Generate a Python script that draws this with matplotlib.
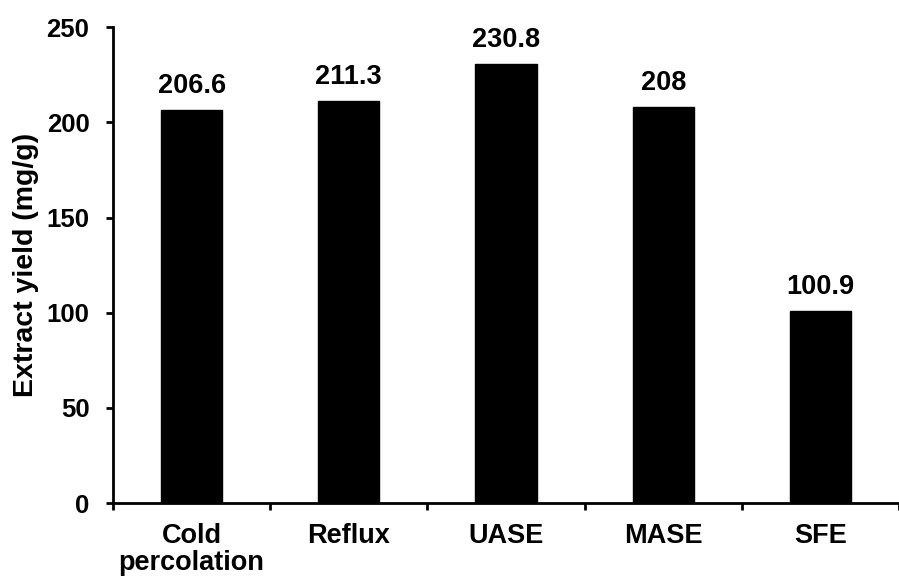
import matplotlib.pyplot as plt
import numpy as np

# extraction methods and their yields
methods = ["Cold\npercolation", "Reflux", "UASE", "MASE", "SFE"]
yields = [206.6, 211.3, 230.8, 208, 100.9]
value_labels = ["206.6", "211.3", "230.8", "208", "100.9"]

plt.rcParams['font.family'] = ['Liberation Sans', 'DejaVu Sans']
plt.rcParams['font.weight'] = 'bold'

fig = plt.figure(figsize=(8.99, 5.77), dpi=100)
ax = fig.add_axes([0.1257, 0.128, 0.8743, 0.825])

x = np.arange(len(methods))
bars = ax.bar(x, yields, width=0.39, color='black', edgecolor='black')

for xi, yv, lab in zip(x, yields, value_labels):
    ax.annotate(lab, (xi, yv), xytext=(0, 8), textcoords='offset points',
                ha='center', va='bottom', fontsize=19.5, fontweight='bold')

ax.set_ylim(0, 250)
ax.set_xlim(-0.5, 4.475)
ax.set_yticks([0, 50, 100, 150, 200, 250])
ax.tick_params(axis='y', labelsize=18.5, width=2, length=5, direction='out', pad=12)

# ticks at group boundaries, labels at centres
ax.set_xticks(np.arange(-0.5, 5, 1))
ax.set_xticklabels([])
ax.tick_params(axis='x', which='major', width=2, length=5, direction='out')
ax.set_xticks(x, minor=True)
ax.set_xticklabels(methods, minor=True, fontsize=19.5, fontweight='bold',
                   linespacing=1.05)
ax.tick_params(axis='x', which='minor', length=0, pad=14)

for s in ['top', 'right']:
    ax.spines[s].set_visible(False)
for s in ['left', 'bottom']:
    ax.spines[s].set_linewidth(2)

ax.set_ylabel("Extract yield (mg/g)", fontsize=20.5, fontweight='bold', labelpad=5)

fig.savefig("out.png", dpi=100)
